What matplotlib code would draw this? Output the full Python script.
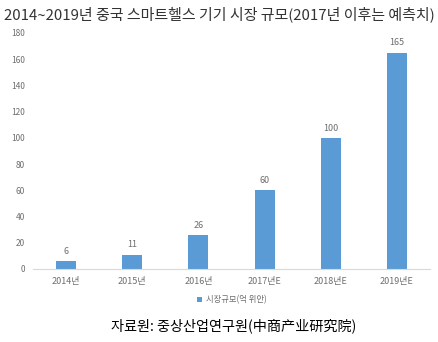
import matplotlib.pyplot as plt
import numpy as np

plt.rcParams['font.family'] = ['Noto Sans CJK KR', 'DejaVu Sans']

years = ['2014년', '2015년', '2016년', '2017년E', '2018년E', '2019년E']
market = [6, 11, 26, 60, 100, 165]
yticks = np.arange(0, 181, 20)

barcolor = '#5B9BD5'
gray = '#6E6E6E'

fig = plt.figure(figsize=(4.38, 3.42), dpi=100)
ax = fig.add_axes([33/438, 1-269/342, 397/438, 236/342])

x = np.arange(len(years))
bars = ax.bar(x, market, width=0.3, color=barcolor, label='시장규모(억 위안)')
for xi, v in zip(x, market):
    ax.text(xi, v+4, str(v), ha='center', va='bottom', fontsize=6.5, color=gray)

ax.set_xlim(-0.5, len(years)-0.5)
ax.set_ylim(0, 180)
ax.set_yticks(yticks)
ax.set_yticklabels([str(t) for t in yticks], fontsize=6, color=gray)
ax.set_xticks(x)
ax.set_xticklabels(years, fontsize=6.5, color=gray)
ax.tick_params(length=0, pad=6)
ax.tick_params(axis='x', pad=6)
for s in ['top', 'right', 'left']:
    ax.spines[s].set_visible(False)
ax.spines['bottom'].set_color('#D9D9D9')

ax.legend(loc='center', bbox_to_anchor=(232/438, 1-300/342), bbox_transform=fig.transFigure,
          frameon=False, fontsize=6, handlelength=0.6, handleheight=0.6, handletextpad=0.4,
          labelcolor=gray)

fig.text(4/438, 1-14/342, '2014~2019년 중국 스마트헬스 기기 시장 규모(2017년 이후는 예측치)',
         fontsize=10.8, color='#333333', va='center', ha='left')
fig.text(234/438, 1-326/342, '자료원: 중상산업연구원(中商产业研究院)',
         fontsize=10.2, color='black', va='center', ha='center')

fig.savefig('out.png', dpi=100)
